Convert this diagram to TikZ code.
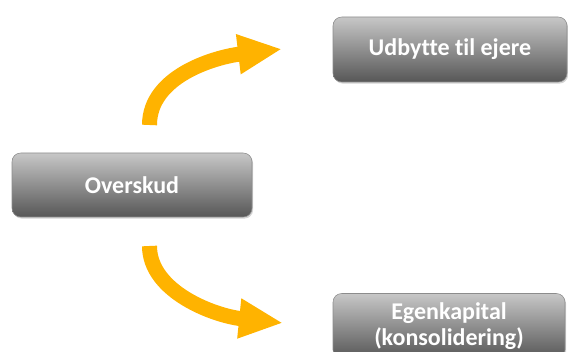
\documentclass[tikz,border=0pt]{standalone}
\usepackage{fontspec}
\setmainfont[Ligatures=NoCommon]{Carlito}
\usetikzlibrary{arrows.meta, shadows}
\definecolor{flowgold}{HTML}{FFB300}

\tikzset{
  box/.style={rounded corners=6.5pt, draw=black!45, line width=0.4pt,
    top color=black!22, bottom color=black!66,
    drop shadow={opacity=0.35, shadow xshift=0.8pt, shadow yshift=-1.2pt},
    text=white, font=\fontsize{18}{19.5}\selectfont\bfseries, align=center,
    inner sep=0pt},
  flow/.style={flowgold, line width=11.25pt,
    -{Triangle[length=33pt, width=27.75pt]}}
}

\begin{document}
\begin{tikzpicture}[x=0.75pt, y=-0.75pt]
\useasboundingbox (0,0) rectangle (568,352);
\node[box, minimum width=180pt, minimum height=48pt] (overskud) at (132,185) {Overskud};
\node[box, minimum width=175.5pt, minimum height=48.75pt] (udbytte) at (450,49.5) {Udbytte til ejere};
\node[box, minimum width=174pt, minimum height=48.75pt] (egenkapital) at (449,326) {Egenkapital\\(konsolidering)};
% arrows
\coordinate (up0) at (149.5,125);
\coordinate (up1) at (282,49);
\coordinate (dn0) at (149.5,246);
\coordinate (dn1) at (283,323);
\draw[flow] (up0) .. controls (149.5,76) and (215,57) .. (up1);
\draw[flow] (dn0) .. controls (149.5,292) and (215,316) .. (dn1);
\end{tikzpicture}
\end{document}
